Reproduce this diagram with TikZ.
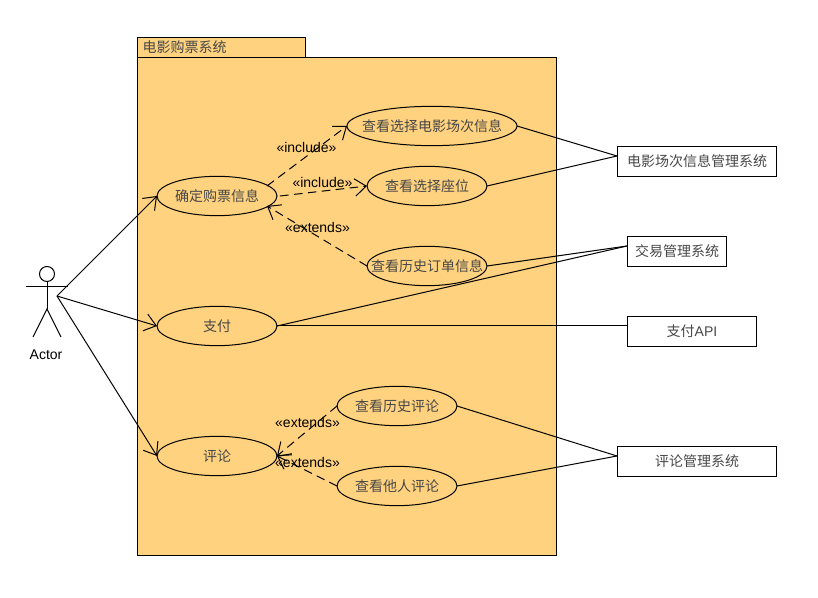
\documentclass[tikz,border=0pt]{standalone}
\usepackage{fontspec}
\setmainfont{Liberation Sans}
\newfontfamily\cjk{Noto Sans CJK SC}
\usepackage{xcolor}
\usetikzlibrary{positioning,arrows.meta,shapes.geometric}
\definecolor{pkgfill}{HTML}{FFD27F}
\newcommand{\wideuc}[1]{\makebox[0pt]{#1}}
\begin{document}
\begin{tikzpicture}[
  x=0.75pt, y=-0.75pt, line width=0.75pt,
  font=\fontsize{10.5pt}{12pt}\selectfont,
  cjktext/.style={text=black!72, font=\fontsize{10.5pt}{12pt}\selectfont\cjk},
  pkg/.style={draw, fill=pkgfill, inner sep=0pt, outer sep=0pt},
  usecase/.style={draw, ellipse, cjktext, inner sep=0pt, outer sep=0pt, minimum width=90pt,
                  minimum height=29.5pt},
  sysbox/.style={draw, fill=white, cjktext, inner sep=0pt, outer sep=0pt, minimum height=22.5pt},
  arr/.style={-{Straight Barb[length=8.5pt,width=13pt]}},
  dep/.style={arr, dashed, dash pattern=on 6.5pt off 4pt}]
\useasboundingbox (0,0) rectangle (818,598);
% package
\node[pkg, minimum width=314.25pt, minimum height=373.5pt] (body) at (346.75,306.5) {};
\node[pkg, cjktext, anchor=south west, minimum width=126pt, minimum height=15pt, text width=118pt,
      align=left, inner xsep=4pt] (tab) at (body.north west) {电影购票系统};
% actor
\node[draw, circle, inner sep=0pt, outer sep=0pt, minimum size=11.25pt] (head) at (47,274) {};
\coordinate (neck) at (47,281.5);
\coordinate (hip) at (47,309);
\coordinate (arml) at (26,287);
\coordinate (armr) at (68,287);
\coordinate (legl) at (33,337);
\coordinate (legr) at (61,337);
\coordinate (hand) at (57,296);
\draw (neck)--(hip); \draw (arml)--(armr); \draw (legl)--(hip)--(legr);
\node (actor) at (46,355) {Actor};
% use cases
\node[usecase] (confirm) at (217,196) {确定购票信息};
\node[usecase, below=68pt of confirm] (pay) {支付};
\node[usecase, below=68pt of pay] (review) {评论};
\node[usecase, minimum width=127.5pt] (session) at (432,126) {\wideuc{查看选择电影场次信息}};
\node[usecase] (seat) at (427,186) {查看选择座位};
\node[usecase, below=30.5pt of seat] (order) {\wideuc{查看历史订单信息}};
\node[usecase] (oldrev) at (397,406) {查看历史评论};
\node[usecase, below=30.5pt of oldrev] (otherrev) {查看他人评论};
% outer systems
\node[sysbox, minimum width=119.5pt] (filmsys) at (697,161.5) {电影场次信息管理系统};
\node[sysbox, minimum width=74.5pt] (tradesys) at (677,251.5) {交易管理系统};
\node[sysbox, minimum width=97pt] (payapi) at (692,331.5) {支付{\rmfamily API}};
\node[sysbox, minimum width=119.5pt] (revsys) at (697,461.5) {评论管理系统};
\coordinate (filmin) at (617,156);
\coordinate (tradein) at (627,246);
\coordinate (payin) at (627,326);
\coordinate (revin) at (617,456);
\coordinate (fromconfirm) at (267,186);
\coordinate (fromconfirmb) at (280,196);
\coordinate (toconfirm) at (267,206);
% connectors
\draw[arr] (hand)--(confirm.west); \draw[arr] (hand)--(pay.west); \draw[arr] (hand)--(review.west);
\draw[dep] (fromconfirm)--(session.west); \draw[dep] (fromconfirmb)--(seat.west);
\draw[dep] (order.west)--(toconfirm);
\draw[dep] (oldrev.west)--(review.east); \draw[dep] (otherrev.west)--(review.east);
\draw (session.east)--(filmin); \draw (seat.east)--(filmin);
\draw (order.east)--(tradein); \draw (pay.east)--(tradein); \draw (pay.east)--(payin);
\draw (oldrev.east)--(revin); \draw (otherrev.east)--(revin);
% stereotypes
\node (inca) at (306.5,147.5) {«include»};
\node (incb) at (322.5,182.5) {«include»};
\node (exta) at (317.5,227.5) {«extends»};
\node (extb) at (307.5,422.5) {«extends»};
\node (extc) at (307.5,462.5) {«extends»};
\end{tikzpicture}
\end{document}
